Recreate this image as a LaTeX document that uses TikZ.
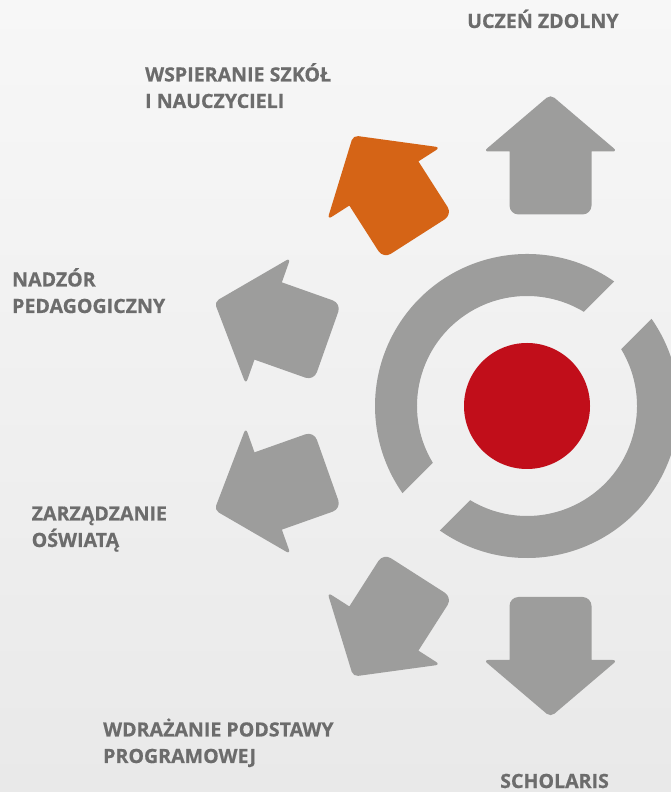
\documentclass[tikz,border=0pt]{standalone}
\usepackage{fontspec}
\newfontfamily\labelfont{Open Sans}[BoldFeatures={FakeBold=0.6}]
\usetikzlibrary{calc}

\definecolor{bgtop}{RGB}{247,247,247}
\definecolor{bgbottom}{RGB}{233,233,233}
\definecolor{shapegray}{RGB}{157,157,156}
\definecolor{centrered}{RGB}{193,14,26}
\definecolor{activeorange}{RGB}{213,100,22}
\definecolor{captiongray}{RGB}{108,108,108}

\begin{document}
\begin{tikzpicture}[x=1pt,y=1pt]
    \tikzset{
        caption/.style = {anchor=base west, inner sep=0, align=left, text=captiongray,
                          font=\labelfont\bfseries\fontsize{19.6}{26.5}\selectfont},
        bigarrow/.pic = {
            \fill[rounded corners=5] (0,60) -- (67,3) [sharp corners]-- (41,3)
                [rounded corners=9]-- (41,-60) -- (-41,-60) [sharp corners]-- (-41,3)
                [rounded corners=5]-- (-67,3) -- cycle;
        },
    }
    \useasboundingbox (0,0) rectangle (671,792);
    \shade[top color=bgtop, bottom color=bgbottom] (0,0) rectangle (671,792);
    \clip (0,0) rectangle (671,792);

    % ring round the centre
    \coordinate (c) at (527,386);
    \pgfmathsetmacro{\ga}{asin(26.5/152)}
    \pgfmathsetmacro{\gb}{asin(26.5/110)}
    \fill[shapegray] ($(c)+(45+\ga:152)$) arc[start angle=45+\ga, end angle=225-\ga, radius=152]
        -- ($(c)+(225-\gb:110)$) arc[start angle=225-\gb, end angle=45+\gb, radius=110] -- cycle;
    \fill[shapegray] ($(c)+(225+\ga:152)$) arc[start angle=225+\ga, end angle=405-\ga, radius=152]
        -- ($(c)+(405-\gb:110)$) arc[start angle=405-\gb, end angle=225+\gb, radius=110] -- cycle;
    \fill[centrered] (c) circle[radius=63];

    % arrows
    \pic[fill=shapegray] (up) at (550.5,637.5) {bigarrow};
    \pic[fill=activeorange, rotate=32.6] (support) at (385.5,606) {bigarrow};
    \pic[fill=shapegray, rotate=70.5] (inspect) at (271,470) {bigarrow};
    \pic[fill=shapegray, rotate=109.5] (manage) at (271,302) {bigarrow};
    \pic[fill=shapegray, rotate=147.4] (core) at (385.5,166) {bigarrow};
    \pic[fill=shapegray, rotate=180] (down) at (550.5,135) {bigarrow};

    % captions (base = last line)
    \node[caption] (uczen) at (467,764) {UCZEŃ ZDOLNY};
    \node[caption] (wspieranie) at (145,684) {WSPIERANIE SZKÓŁ\\I NAUCZYCIELI};
    \node[caption] (nadzor) at (12,479) {NADZÓR\\PEDAGOGICZNY};
    \node[caption] (zarzadzanie) at (31.5,245) {ZARZĄDZANIE\\OŚWIATĄ};
    \node[caption] (wdrazanie) at (103,29) {WDRAŻANIE PODSTAWY\\PROGRAMOWEJ};
    \node[caption] (scholaris) at (500,4) {SCHOLARIS};
\end{tikzpicture}
\end{document}
